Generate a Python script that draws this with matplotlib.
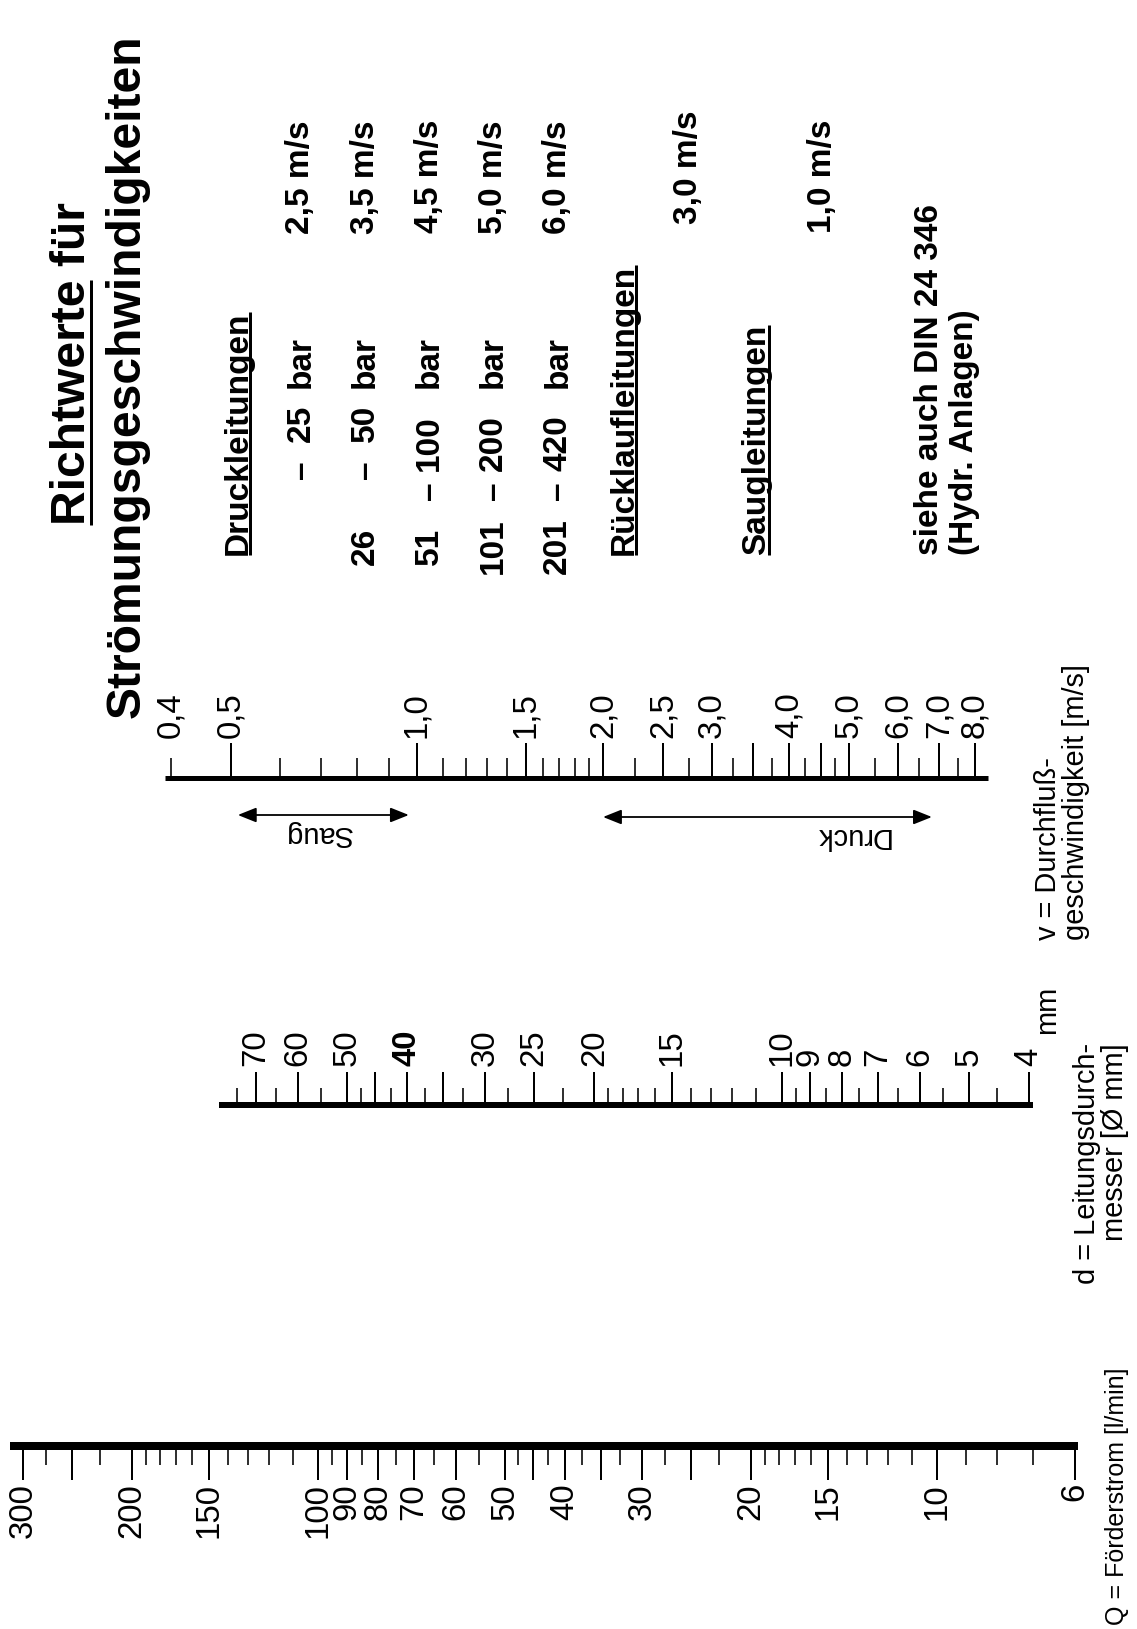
import numpy as np
import matplotlib
matplotlib.use("Agg")
import matplotlib.pyplot as plt

# ==== Data ====
# Q = Foerderstrom [l/min]
q_major = [300, 200, 150, 100, 90, 80, 70, 60, 50, 40, 30, 20, 15, 10, 6]
q_long = [250, 45, 35, 25]
q_minor = [275, 225, 190, 180, 170, 160, 140, 130, 120, 110, 95, 85, 75, 65, 55,
           47.5, 42.5, 37.5, 32.5, 27.5, 22.5, 19, 18, 17, 16, 14, 13, 12, 11, 9, 8, 7]
q_line = (314.7, 5.93)

# d = Leitungsdurchmesser [mm]
d_major = [70, 60, 50, 40, 30, 25, 20, 15, 10, 9, 8, 7, 6, 5, 4]
d_long = [45, 35]
d_minor = [75, 65, 55, 47.5, 42.5, 37.5, 32.5, 27.5, 22.5, 19, 18, 17, 16, 14, 13, 12, 11,
           9.5, 8.5, 7.5, 6.5, 5.5, 4.5]
d_bold = [40]
d_line = (80.3, 3.94)

# v = Durchflussgeschwindigkeit [m/s]
v_major = [0.5, 1.0, 1.5, 2.0, 2.5, 3.0, 4.0, 5.0, 6.0, 7.0, 8.0]
v_long = [3.5, 4.5]
v_minor = [0.4, 0.6, 0.7, 0.8, 0.9, 1.1, 1.2, 1.3, 1.4, 1.6, 1.7, 1.8, 1.9,
           2.25, 2.75, 3.25, 3.75, 4.25, 4.75, 5.5, 6.5, 7.5]
v_labelled = [0.4] + v_major
v_line = (0.391, 8.39)
saug_range = (0.513, 0.97)
druck_range = (2.0, 6.81)

# table
bar_lo = ["", "26", "51", "101", "201"]
bar_hi = ["25", "50", "100", "200", "420"]
druck_speeds = ["2,5 m/s", "3,5 m/s", "4,5 m/s", "5,0 m/s", "6,0 m/s"]
ruecklauf_speed = "3,0 m/s"
saug_speed = "1,0 m/s"

# ==== Figure ====
W, H = 1137, 1629
FONT = "Liberation Sans"
fig = plt.figure(figsize=(W / 100, H / 100), dpi=100)
fig.patch.set_facecolor("white")

def pt(px):
    return px * 0.72

ax_bg = fig.add_axes([0, 0, 1, 1])
ax_bg.set_xlim(0, W)
ax_bg.set_ylim(H, 0)
ax_bg.axis("off")

def log_axes(v_ref, x_ref, px_per_dec, direction):
    # full-figure log axis, y in pixel units (top = 0)
    ax = fig.add_axes([0, 0, 1, 1], facecolor="none")
    ax.set_xscale("log")
    lo = v_ref * 10 ** (direction * (0 - x_ref) / px_per_dec)
    hi = v_ref * 10 ** (direction * (W - x_ref) / px_per_dec)
    ax.set_xlim(lo, hi)
    ax.set_ylim(H, 0)
    ax.axis("off")
    return ax

ax_q = log_axes(300, 23, 619, -1)
ax_d = log_axes(70, 256, 622, -1)
ax_v = log_axes(1.0, 417, 618, 1)

def draw_scale(ax, line, line_y, line_w, labelled, long_ticks, minor, sign,
               major_len, minor_len, label_y, va, fmt, short_labelled=(), bold=()):
    ax.plot(line, [line_y, line_y], color="black", lw=pt(line_w), solid_capstyle="butt")
    full = [v for v in labelled if v not in short_labelled] + list(long_ticks)
    ax.vlines(full, line_y, line_y + sign * major_len, color="black", lw=pt(2.0))
    ax.vlines(list(minor), line_y, line_y + sign * minor_len, color="black", lw=pt(1.6))
    for v in labelled:
        ax.text(v, label_y, fmt(v), rotation=90, ha="center", va=va,
                fontsize=pt(33), family=FONT,
                fontweight="bold" if v in bold else "normal")

draw_scale(ax_q, q_line, 1446, 8, q_major, q_long, q_minor, 1, 34, 19,
           1483, "top", lambda v: str(int(v)))
draw_scale(ax_d, d_line, 1105, 6, d_major, d_long, d_minor, -1, 33, 17,
           1066, "bottom", lambda v: str(int(v)), bold=d_bold)
draw_scale(ax_v, v_line, 778, 5, v_labelled, v_long, v_minor, -1, 35, 20,
           738, "bottom", lambda v: f"{v:.1f}".replace(".", ","), short_labelled=[0.4])

# Saug / Druck arrows
arrow = dict(arrowstyle="<|-|>,head_length=0.7,head_width=0.28", lw=pt(1.8),
             color="black", shrinkA=0, shrinkB=0, mutation_scale=16)
ax_v.annotate("", xy=(saug_range[1], 815), xytext=(saug_range[0], 815), arrowprops=arrow)
ax_v.annotate("", xy=(druck_range[1], 817), xytext=(druck_range[0], 817), arrowprops=arrow)
ax_v.text(0.69, 834, "Saug", rotation=180, ha="center", va="center",
          fontsize=pt(29), family=FONT)
ax_v.text(5.05, 836, "Druck", rotation=180, ha="center", va="center",
          fontsize=pt(29), family=FONT)

# ==== axis titles ====
ax_bg.text(1117, 1625, "Q = Förderstrom [l/min]", rotation=90, ha="center", va="bottom",
           fontsize=pt(25), family=FONT)
ax_bg.text(1101, 1043, "d = Leitungsdurch-\nmesser [Ø mm]", rotation=90, ha="center",
           va="top", multialignment="right", linespacing=1.0, fontsize=pt(29), family=FONT)
ax_bg.text(1047, 1010, "mm", rotation=90, ha="center", va="center",
           fontsize=pt(29), family=FONT)
ax_bg.text(1062, 940, "v = Durchfluß-\ngeschwindigkeit [m/s]", rotation=90, ha="center",
           va="bottom", multialignment="left", linespacing=1.0, fontsize=pt(29), family=FONT)

# ==== title & table ====
underlines = []

def btext(x, y, s, size, va="bottom", underline=None):
    t = ax_bg.text(x, y, s, rotation=90, ha="center", va=va, fontsize=pt(size),
                   family=FONT, fontweight="bold")
    if underline:
        underlines.append((t, underline, size))
    return t

btext(73, 525, "Richtwerte für", 48, underline="Richtwerte")
btext(127, 718, "Strömungsgeschwindigkeiten", 48)

btext(238, 555, "Druckleitungen", 33.4, underline="Druckleitungen")
row_x0, row_step = 301, 64.2
for i in range(len(bar_hi)):
    x = row_x0 + i * row_step
    wide = len(bar_hi[i]) > 2
    if bar_lo[i]:
        btext(x, 546, bar_lo[i], 33.4, va="center")
    btext(x, 491 if wide else 470, "–", 33.4, va="center")
    btext(x, 443 if wide else 423, bar_hi[i], 33.4, va="center")
    btext(x, 362, "bar", 33.4, va="center")
    btext(x, 120, druck_speeds[i], 33.4, va="top")

btext(624, 555, "Rücklaufleitungen", 33.4, underline="Rücklaufleitungen")
btext(688, 110, ruecklauf_speed, 33.4, va="top")
btext(757, 555, "Saugleitungen", 33.4, underline="Saugleitungen")
btext(822, 120, saug_speed, 33.4, va="top")
btext(930, 555, "siehe auch DIN 24 346", 33.4)
btext(964, 555, "(Hydr. Anlagen)", 33.4)

# underlines drawn from measured text extents
fig.canvas.draw()
renderer = fig.canvas.get_renderer()
inv = ax_bg.transData.inverted()
for t, part, size in underlines:
    bb = t.get_window_extent(renderer)
    probe = ax_bg.text(0, 0, part, rotation=90, fontsize=pt(size), family=FONT,
                       fontweight="bold")
    pb = probe.get_window_extent(renderer)
    probe.remove()
    (x0, y_bot), (x1, _) = inv.transform([(bb.x0, bb.y0), (bb.x1, bb.y1)])
    length = pb.height
    ux = x1 - 0.1 * size
    ax_bg.plot([ux, ux], [y_bot, y_bot - length], color="black", lw=pt(3),
               solid_capstyle="butt")

fig.savefig("out.png", dpi=100, facecolor="white")
